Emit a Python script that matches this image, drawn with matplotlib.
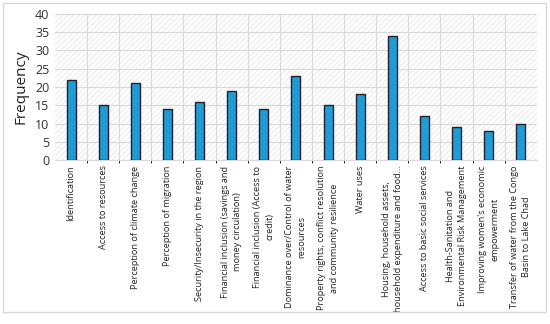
import matplotlib.pyplot as plt
from matplotlib.patches import Rectangle

plt.rcParams["font.family"] = ["Open Sans", "DejaVu Sans"]
plt.rcParams["hatch.linewidth"] = 0.6

categories = [
    "Identification",
    "Access to resources",
    "Perception of climate change",
    "Perception of migration",
    "Security/Insecurity in the region",
    "Financial inclusion (savings and\nmoney circulation)",
    "Financial inclusion (Access to\ncredit)",
    "Dominance over/Control of water\nresources",
    "Property rights, conflict resolution\nand community resilience",
    "Water uses",
    "Housing, household assets,\nhousehold expenditure and food...",
    "Access to basic social services",
    "Health-Sanitation and\nEnvironmental Risk Management",
    "Improving women's economic\nempowerment",
    "Transfer of water from the Congo\nBasin to Lake Chad",
]
frequency = [22, 15, 21, 14, 16, 19, 14, 23, 15, 18, 34, 12, 9, 8, 10]
y_ticks = [0, 5, 10, 15, 20, 25, 30, 35, 40]

fig = plt.figure(figsize=(5.5, 3.24), dpi=100)
ax = fig.add_axes([0.1, 0.506, 0.876, 0.451])

# outer border
fig.patches.append(Rectangle((0.006, 0.037), 0.986, 0.954, transform=fig.transFigure,
                             fill=False, edgecolor="#d9d9d9", linewidth=1))

# hatched plot background
ax.add_patch(Rectangle((0, 0), 1, 1, transform=ax.transAxes, facecolor="white",
                       edgecolor="#e6e6e6", hatch="//////", linewidth=0, zorder=0))

x = list(range(len(categories)))
ax.bar(x, frequency, width=0.28, color="#1f9bd7", edgecolor="#222222",
       linewidth=1.0, zorder=3)

ax.set_xlim(-0.5, len(categories) - 0.5)
ax.set_ylim(0, 40)
ax.set_yticks(y_ticks)
ax.set_yticklabels([str(v) for v in y_ticks], fontsize=9, color="#333333")
ax.set_xticks(x)
ax.set_xticklabels(categories, rotation=90, fontsize=6.6, color="#222222",
                   ha="center", va="top", multialignment="center",
                   linespacing=1.45)
ax.tick_params(axis="both", length=0, pad=4)

# grid lines at category boundaries
ax.set_xticks([i + 0.5 for i in x[:-1]], minor=True)
ax.grid(True, axis="x", which="minor", color="#d9d9d9", linewidth=0.8, zorder=1)
ax.grid(True, axis="y", which="major", color="#d9d9d9", linewidth=0.8, zorder=1)
ax.set_axisbelow(True)

for s in ["top", "right", "left"]:
    ax.spines[s].set_visible(False)
ax.spines["bottom"].set_color("#d9d9d9")

ax.set_ylabel("Frequency", fontsize=11, color="#222222", labelpad=5)

plt.savefig("out.png", dpi=100)
